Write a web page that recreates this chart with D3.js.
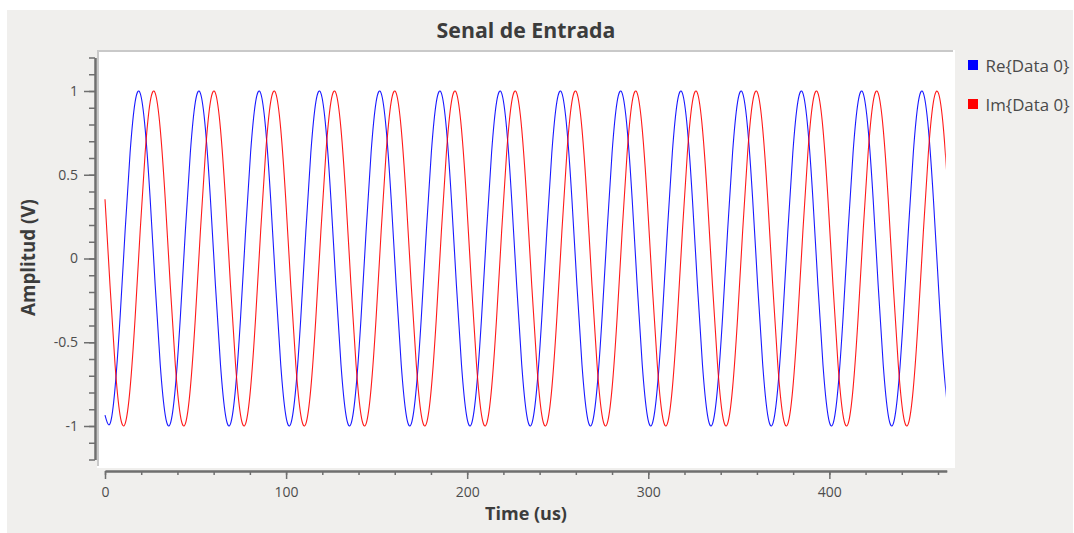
<!DOCTYPE html>
<html>
<head>
<meta charset="utf-8">
<script src="https://cdn.jsdelivr.net/npm/d3@7"></script>
<style>
  html, body { margin: 0; padding: 0; background: #ffffff; }
  svg { display: block; }
</style>
</head>
<body>
<svg id="chart" width="1074" height="533"></svg>
<script>
// ---------- data ----------
const chartTitle = "Senal de Entrada";
const xAxisTitle = "Time (us)";
const yAxisTitle = "Amplitud (V)";
const seriesNames = ["Re{Data 0}", "Im{Data 0}"];
const sampleStepUs = 2.7725;           // time between samples (us)
const xDomain = [0, 464.8];
const dataEndUs = 464.3;               // last time shown by the trace
const yDomain = [-1.2, 1.2];
const xMajorTicks = [0, 100, 200, 300, 400];
const xMinorTicks = [0, 20, 40, 60, 80, 100, 120, 140, 160, 180, 200, 220, 240, 260, 280, 300, 320, 340, 360, 380, 400, 420, 440, 460];
const yMajorTicks = [-1, -0.5, 0, 0.5, 1];
const yMinorTicks = [-1.2, -1.1, -1, -0.9, -0.8, -0.7, -0.6, -0.5, -0.4, -0.3, -0.2, -0.1, 0, 0.1, 0.2, 0.3, 0.4, 0.5, 0.6, 0.7, 0.8, 0.9, 1, 1.1, 1.2];
const yTickLabels = ["-1", "-0.5", "0", "0.5", "1"];

const reData = [
  -0.935, -0.987, -0.774, -0.354, 0.161, 0.633, 0.935, 0.987, 0.774, 0.354, -0.161, -0.633,
  -0.935, -0.987, -0.774, -0.354, 0.161, 0.633, 0.935, 0.987, 0.774, 0.354, -0.161, -0.633,
  -0.935, -0.987, -0.774, -0.354, 0.161, 0.633, 0.935, 0.987, 0.774, 0.354, -0.161, -0.633,
  -0.935, -0.987, -0.774, -0.354, 0.161, 0.633, 0.935, 0.987, 0.774, 0.354, -0.161, -0.633,
  -0.935, -0.987, -0.774, -0.354, 0.161, 0.633, 0.935, 0.987, 0.774, 0.354, -0.161, -0.633,
  -0.935, -0.987, -0.774, -0.354, 0.161, 0.633, 0.935, 0.987, 0.774, 0.354, -0.161, -0.633,
  -0.935, -0.987, -0.774, -0.354, 0.161, 0.633, 0.935, 0.987, 0.774, 0.354, -0.161, -0.633,
  -0.935, -0.987, -0.774, -0.354, 0.161, 0.633, 0.935, 0.987, 0.774, 0.354, -0.161, -0.633,
  -0.935, -0.987, -0.774, -0.354, 0.161, 0.633, 0.935, 0.987, 0.774, 0.354, -0.161, -0.633,
  -0.935, -0.987, -0.774, -0.354, 0.161, 0.633, 0.935, 0.987, 0.774, 0.354, -0.161, -0.633,
  -0.935, -0.987, -0.774, -0.354, 0.161, 0.633, 0.935, 0.987, 0.774, 0.354, -0.161, -0.633,
  -0.935, -0.987, -0.774, -0.354, 0.161, 0.633, 0.935, 0.987, 0.774, 0.354, -0.161, -0.633,
  -0.935, -0.987, -0.774, -0.354, 0.161, 0.633, 0.935, 0.987, 0.774, 0.354, -0.161, -0.633,
  -0.935, -0.987, -0.774, -0.354, 0.161, 0.633, 0.935, 0.987, 0.774, 0.354, -0.161, -0.633,
  -0.935
];
const imData = [
  0.354, -0.161, -0.633, -0.935, -0.987, -0.774, -0.354, 0.161, 0.633, 0.935, 0.987, 0.774,
  0.354, -0.161, -0.633, -0.935, -0.987, -0.774, -0.354, 0.161, 0.633, 0.935, 0.987, 0.774,
  0.354, -0.161, -0.633, -0.935, -0.987, -0.774, -0.354, 0.161, 0.633, 0.935, 0.987, 0.774,
  0.354, -0.161, -0.633, -0.935, -0.987, -0.774, -0.354, 0.161, 0.633, 0.935, 0.987, 0.774,
  0.354, -0.161, -0.633, -0.935, -0.987, -0.774, -0.354, 0.161, 0.633, 0.935, 0.987, 0.774,
  0.354, -0.161, -0.633, -0.935, -0.987, -0.774, -0.354, 0.161, 0.633, 0.935, 0.987, 0.774,
  0.354, -0.161, -0.633, -0.935, -0.987, -0.774, -0.354, 0.161, 0.633, 0.935, 0.987, 0.774,
  0.354, -0.161, -0.633, -0.935, -0.987, -0.774, -0.354, 0.161, 0.633, 0.935, 0.987, 0.774,
  0.354, -0.161, -0.633, -0.935, -0.987, -0.774, -0.354, 0.161, 0.633, 0.935, 0.987, 0.774,
  0.354, -0.161, -0.633, -0.935, -0.987, -0.774, -0.354, 0.161, 0.633, 0.935, 0.987, 0.774,
  0.354, -0.161, -0.633, -0.935, -0.987, -0.774, -0.354, 0.161, 0.633, 0.935, 0.987, 0.774,
  0.354, -0.161, -0.633, -0.935, -0.987, -0.774, -0.354, 0.161, 0.633, 0.935, 0.987, 0.774,
  0.354, -0.161, -0.633, -0.935, -0.987, -0.774, -0.354, 0.161, 0.633, 0.935, 0.987, 0.774,
  0.354, -0.161, -0.633, -0.935, -0.987, -0.774, -0.354, 0.161, 0.633, 0.935, 0.987, 0.774,
  0.354
];
const seriesColors = ["#0000ff", "#ff0000"];

// ---------- layout ----------
const FONT = "'Open Sans', 'DejaVu Sans', sans-serif";
const svg = d3.select("#chart");

// panel background
svg.append("rect").attr("x", 7).attr("y", 10).attr("width", 1066).attr("height", 523).attr("fill", "#f0efed");

// plot canvas
const canvas = { x0: 97, y0: 50, x1: 955, y1: 468 };
svg.append("rect").attr("x", canvas.x0).attr("y", canvas.y0)
  .attr("width", canvas.x1 - canvas.x0).attr("height", canvas.y1 - canvas.y0).attr("fill", "#ffffff");
svg.append("line").attr("x1", canvas.x0).attr("x2", canvas.x1 - 2).attr("y1", canvas.y0 + 1).attr("y2", canvas.y0 + 1)
  .attr("stroke", "#c9c9c9").attr("stroke-width", 2);
svg.append("line").attr("x1", canvas.x0 + 1).attr("x2", canvas.x0 + 1).attr("y1", canvas.y0).attr("y2", canvas.y1 - 2)
  .attr("stroke", "#c9c9c9").attr("stroke-width", 2);

const x = d3.scaleLinear().domain(xDomain).range([105, 946.7]);
const y = d3.scaleLinear().domain(yDomain).range([459.5, 57.5]);

const axisColor = "#6f6f6f";
const labelColor = "#4d4d4d";

// X axis
const xAxisY = 471;
const gxMinor = svg.append("g").attr("transform", `translate(0,${xAxisY})`)
  .call(d3.axisBottom(x).tickValues(xMinorTicks).tickSize(4).tickSizeOuter(0).tickFormat(""));
const gxMajor = svg.append("g").attr("transform", `translate(0,${xAxisY})`)
  .call(d3.axisBottom(x).tickValues(xMajorTicks).tickSize(8).tickSizeOuter(0).tickPadding(8).tickFormat(d3.format("d")));
[gxMinor, gxMajor].forEach(g => {
  g.select(".domain").attr("stroke", axisColor).attr("stroke-width", 2);
  g.selectAll(".tick line").attr("stroke", axisColor).attr("stroke-width", 1.5);
});
gxMajor.selectAll(".tick text").attr("fill", labelColor).attr("font-family", FONT).attr("font-size", 14);

// Y axis
const yAxisX = 95;
const gyMinor = svg.append("g").attr("transform", `translate(${yAxisX},0)`)
  .call(d3.axisLeft(y).tickValues(yMinorTicks).tickSize(6).tickSizeOuter(0).tickFormat(""));
const gyMajor = svg.append("g").attr("transform", `translate(${yAxisX},0)`)
  .call(d3.axisLeft(y).tickValues(yMajorTicks).tickSize(11).tickSizeOuter(0).tickPadding(6)
    .tickFormat((d, i) => yTickLabels[i]));
[gyMinor, gyMajor].forEach(g => {
  g.select(".domain").attr("stroke", axisColor).attr("stroke-width", 2);
  g.selectAll(".tick line").attr("stroke", axisColor).attr("stroke-width", 1.5);
});
gyMajor.selectAll(".tick text").attr("fill", labelColor).attr("font-family", FONT).attr("font-size", 14);

// fit helper: scale font-size so the text reaches a target width
function fitWidth(sel, target) {
  const w = sel.node().getComputedTextLength();
  const fs = parseFloat(sel.attr("font-size"));
  if (w > 0) sel.attr("font-size", fs * target / w);
}

// Title
const title = svg.append("text").attr("x", 526).attr("y", 37.5).attr("text-anchor", "middle")
  .attr("font-family", FONT).attr("font-weight", "bold").attr("font-size", 17).attr("fill", "#3c3c3c")
  .text(chartTitle);
fitWidth(title, 179);

// Axis titles
const xt = svg.append("text").attr("x", 526).attr("y", 519.5).attr("text-anchor", "middle")
  .attr("font-family", FONT).attr("font-weight", "bold").attr("font-size", 15).attr("fill", "#3c3c3c")
  .text(xAxisTitle);
fitWidth(xt, 82);
const yt = svg.append("text").attr("transform", "translate(34.5,257.5) rotate(-90)").attr("text-anchor", "middle")
  .attr("font-family", FONT).attr("font-weight", "bold").attr("font-size", 15).attr("fill", "#3c3c3c")
  .text(yAxisTitle);
fitWidth(yt, 117);

// Series lines (clipped at the last time shown by the trace)
svg.append("clipPath").attr("id", "clip").append("rect")
  .attr("x", canvas.x0 + 2).attr("y", canvas.y0 + 2)
  .attr("width", x(dataEndUs) - canvas.x0 - 2).attr("height", canvas.y1 - canvas.y0 - 2);
const line = d3.line().x((d, i) => x(i * sampleStepUs)).y(d => y(d)).curve(d3.curveNatural);
const plot = svg.append("g").attr("clip-path", "url(#clip)");
[reData, imData].forEach((data, k) => {
  plot.append("path").datum(data).attr("d", line).attr("fill", "none")
    .attr("stroke", seriesColors[k]).attr("stroke-width", 1.1).attr("stroke-opacity", 0.9);
});

// Legend
const legend = svg.append("g");
seriesNames.forEach((name, k) => {
  const ly = 60 + k * 39;
  legend.append("rect").attr("x", 968).attr("y", ly).attr("width", 10).attr("height", 10).attr("fill", seriesColors[k]);
  const t = legend.append("text").attr("x", 985.5).attr("y", ly + 11.5)
    .attr("font-family", FONT).attr("font-size", 15).attr("fill", "#4a4a4a").text(name);
  fitWidth(t, 84);
});
</script>
</body>
</html>
